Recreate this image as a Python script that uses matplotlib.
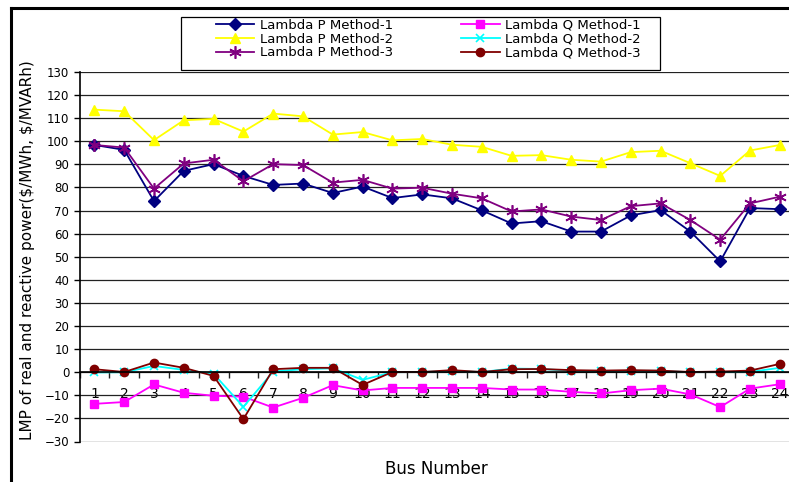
import numpy as np
import matplotlib
matplotlib.use('Agg')
import matplotlib.pyplot as plt
from matplotlib.lines import Line2D
from matplotlib.patches import Rectangle

# LMP values per bus for the three methods
bus = list(range(1, 25))
lambda_p_m1 = [98.4, 96.3, 74.1, 87.2, 90.1, 85.0, 81.1, 81.7, 77.6, 80.4, 75.4, 77.0,
               75.3, 70.1, 64.4, 65.4, 60.9, 60.9, 67.9, 70.2, 60.9, 48.0, 71.1, 70.6]
lambda_p_m2 = [113.7, 113.0, 100.5, 109.1, 109.7, 104.2, 112.0, 110.8, 102.9, 104.0, 100.4, 101.0,
               98.5, 97.6, 93.7, 94.0, 92.0, 91.2, 95.3, 95.9, 90.5, 85.0, 96.0, 98.4]
lambda_p_m3 = [98.4, 97.3, 79.5, 90.4, 92.0, 82.7, 90.1, 89.7, 82.1, 83.3, 79.5, 79.9,
               77.3, 75.3, 69.6, 70.5, 67.4, 65.9, 71.9, 73.1, 65.9, 57.4, 73.1, 76.0]
lambda_q_m1 = [-13.7, -12.9, -5.3, -8.9, -10.2, -10.6, -15.3, -11.1, -5.6, -7.9, -6.8, -6.8,
               -6.8, -6.8, -7.5, -7.5, -8.5, -9.2, -7.8, -7.1, -9.6, -15.1, -7.1, -5.2]
lambda_q_m2 = [-0.1, 0.0, 2.7, 1.0, -0.7, -15.0, 0.3, 1.3, 1.7, -3.3, 0.0, 0.1,
               0.6, 0.1, 1.6, 1.4, 0.6, 0.4, 0.6, 0.6, 0.0, 0.1, 0.1, 1.9]
lambda_q_m3 = [1.3, 0.1, 4.2, 1.9, -1.6, -20.3, 1.3, 1.9, 1.9, -5.5, 0.1, 0.1,
               0.9, 0.1, 1.3, 1.4, 0.9, 0.7, 0.9, 0.7, 0.1, 0.3, 0.7, 3.6]

plt.rcParams['text.parse_math'] = False

W, H = 789, 482
fig = plt.figure(figsize=(W / 100, H / 100), dpi=100)
ax = fig.add_axes([79.5 / W, (H - 441.5) / H, 715.2 / W, 369.5 / H])

lw = 1.3
series = [
    (lambda_p_m1, 'Lambda P Method-1', dict(color='#000080', marker='D', ms=6)),
    (lambda_p_m2, 'Lambda P Method-2', dict(color='#FFFF00', marker='^', ms=7.5)),
    (lambda_p_m3, 'Lambda P Method-3', dict(color='#800080', marker=(6, 2, 0), ms=9, mew=1.2)),
    (lambda_q_m1, 'Lambda Q Method-1', dict(color='#FF00FF', marker='s', ms=6)),
    (lambda_q_m2, 'Lambda Q Method-2', dict(color='#00FFFF', marker='x', ms=6, mew=1.2)),
    (lambda_q_m3, 'Lambda Q Method-3', dict(color='#800000', marker='o', ms=6)),
]
handles = []
for vals, name, st in series:
    h, = ax.plot(bus, vals, lw=lw, label=name, clip_on=False, **st)
    handles.append(h)

ax.set_xlim(0.5, 24.5)
ax.set_ylim(-30, 130)
ax.set_yticks(np.arange(-30, 131, 10))
ax.yaxis.grid(True, color='#222222', lw=0.9)
ax.set_axisbelow(True)

for s in ['top', 'right']:
    ax.spines[s].set_visible(False)
ax.spines['left'].set_linewidth(1.2)
ax.spines['bottom'].set_position(('data', 0))
ax.spines['bottom'].set_linewidth(1.2)

# category boundaries get the tick marks, bus numbers sit between them
ax.set_xticks(np.arange(0.5, 25, 1))
ax.set_xticklabels([])
ax.set_xticks(bus, minor=True)
ax.set_xticklabels([str(b) for b in bus], minor=True)
ax.tick_params(axis='x', which='major', direction='out', length=4.3, width=1, color='#222222')
ax.tick_params(axis='x', which='minor', length=0, pad=10.5, labelsize=10)
ax.tick_params(axis='y', direction='out', length=4.3, width=1, pad=3, labelsize=8.5)

fig.text(28 / W, 1 - 250 / H, 'LMP of real and reactive power($/MWh, $/MVARh)',
         rotation=90, ha='center', va='center', fontsize=11)
fig.text(436 / W, 1 - 469 / H, 'Bus Number', ha='center', va='center', fontsize=12)

# legend box
fig.patches.append(Rectangle((181 / W, 1 - 70 / H), 479 / W, 53 / H,
                             transform=fig.transFigure, fill=True, facecolor='white',
                             edgecolor='black', lw=0.9, zorder=3))
leg = fig.legend(handles=handles, ncol=2, loc='upper left',
                 bbox_to_anchor=(216 / W, 1 - 19 / H), frameon=False,
                 fontsize=9.5, handlelength=2.9, handletextpad=0.4,
                 columnspacing=5.2, labelspacing=0.05, borderpad=0, borderaxespad=0)
leg.set_zorder(4)

# outer chart border
fig.add_artist(Line2D([11 / W, 11 / W], [1 - 8 / H, 0], transform=fig.transFigure,
                      color='black', lw=2.2))
fig.add_artist(Line2D([11 / W, 1], [1 - 8 / H, 1 - 8 / H], transform=fig.transFigure,
                      color='black', lw=2.2))

fig.savefig('out.png', dpi=100)
